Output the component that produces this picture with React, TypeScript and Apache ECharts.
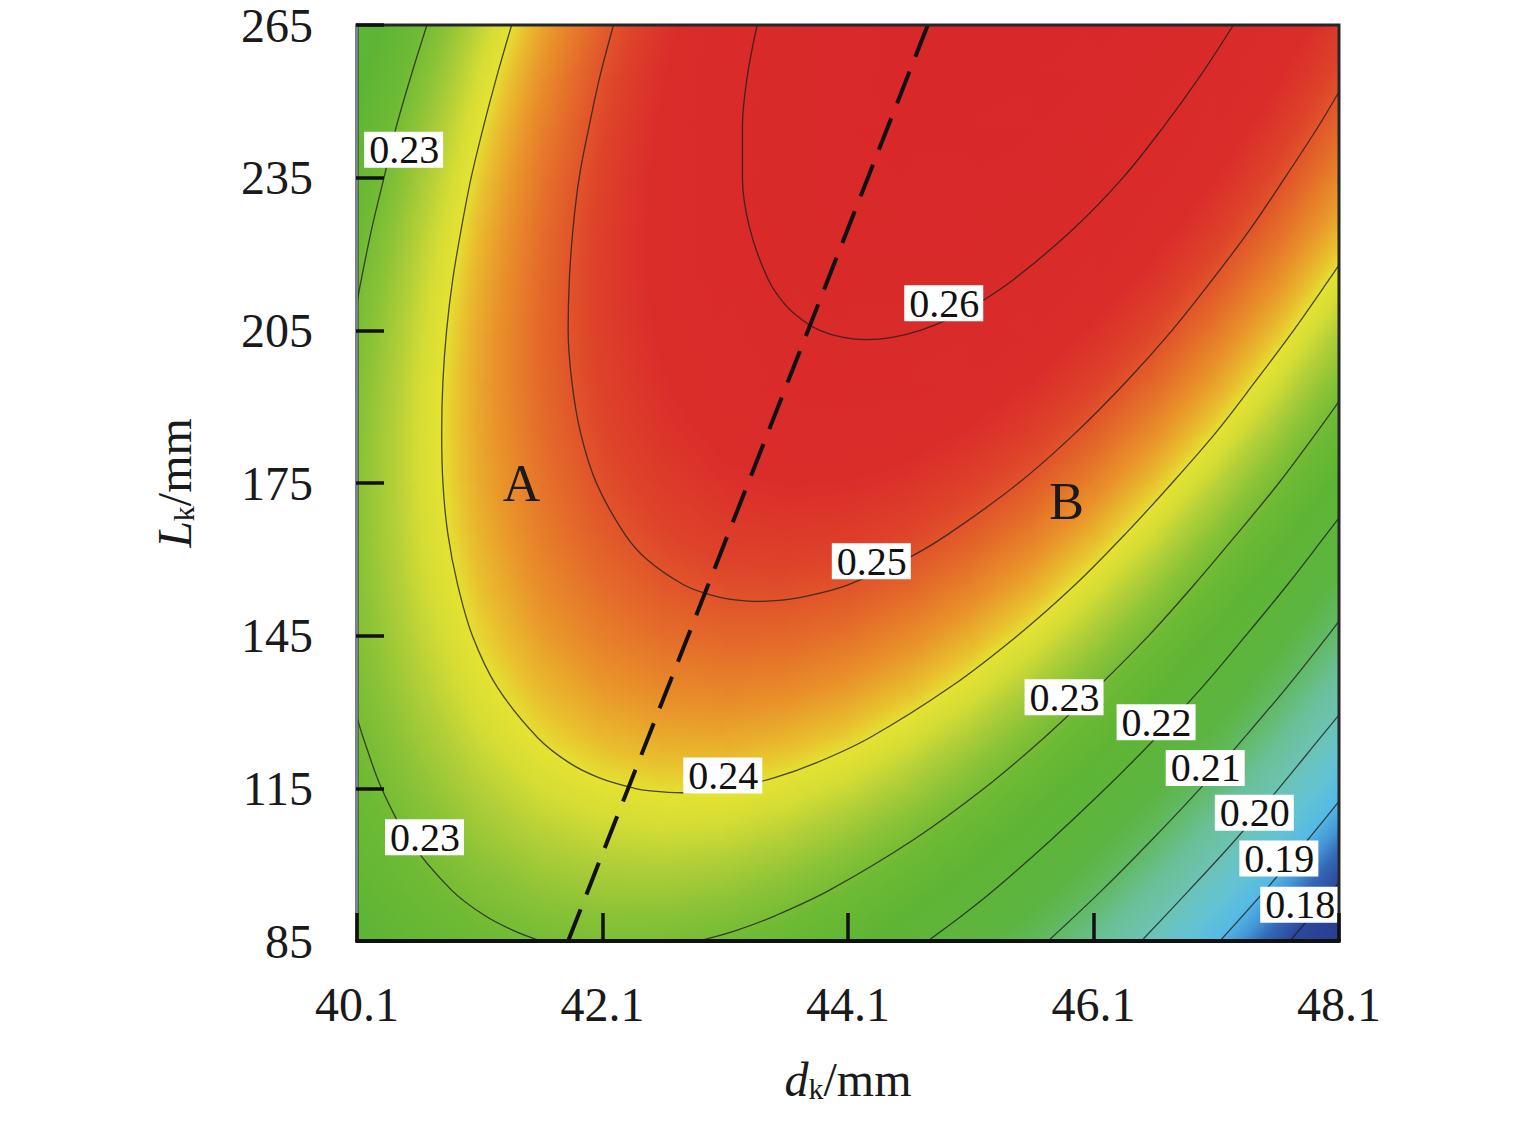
import React, { useEffect, useRef } from 'react';
import * as echarts from 'echarts';

const FONT = "'Liberation Serif', 'Times New Roman', Times, serif";

// ---- grid of the response surface: d_k (mm) columns, L_k (mm) rows ----
const dNodes = [40.1, 40.6, 41.1, 41.6, 42.1, 42.6, 43.1, 43.6, 44.1, 44.6, 45.1, 45.6, 46.1, 46.6, 47.1, 47.6, 48.1];
const LNodes = [85, 95, 105, 115, 125, 135, 145, 155, 165, 175, 185, 195, 205, 215, 225, 235, 245, 255, 265];

const fAt085 = [0.2229, 0.2261, 0.2285, 0.2300, 0.2307, 0.2305, 0.2295, 0.2276, 0.2248, 0.2212, 0.2168, 0.2115, 0.2054, 0.1984, 0.1905, 0.1818, 0.1723];
const fAt095 = [0.2250, 0.2285, 0.2311, 0.2329, 0.2339, 0.2340, 0.2333, 0.2317, 0.2292, 0.2259, 0.2218, 0.2168, 0.2109, 0.2042, 0.1966, 0.1882, 0.1790];
const fAt105 = [0.2267, 0.2305, 0.2335, 0.2356, 0.2368, 0.2372, 0.2368, 0.2355, 0.2333, 0.2303, 0.2264, 0.2217, 0.2162, 0.2098, 0.2025, 0.1944, 0.1854];
const fAt115 = [0.2283, 0.2324, 0.2356, 0.2380, 0.2395, 0.2402, 0.2401, 0.2390, 0.2372, 0.2345, 0.2309, 0.2265, 0.2212, 0.2151, 0.2081, 0.2002, 0.1916];
const fAt125 = [0.2296, 0.2339, 0.2375, 0.2402, 0.2420, 0.2429, 0.2431, 0.2423, 0.2408, 0.2383, 0.2350, 0.2309, 0.2259, 0.2201, 0.2134, 0.2059, 0.1975];
const fAt135 = [0.2306, 0.2353, 0.2391, 0.2420, 0.2442, 0.2454, 0.2458, 0.2454, 0.2441, 0.2420, 0.2390, 0.2351, 0.2304, 0.2249, 0.2185, 0.2112, 0.2031];
const fAt145 = [0.2314, 0.2363, 0.2404, 0.2437, 0.2461, 0.2476, 0.2483, 0.2482, 0.2472, 0.2453, 0.2426, 0.2391, 0.2347, 0.2294, 0.2233, 0.2163, 0.2085];
const fAt155 = [0.2319, 0.2371, 0.2415, 0.2451, 0.2477, 0.2496, 0.2506, 0.2507, 0.2500, 0.2484, 0.2460, 0.2428, 0.2386, 0.2337, 0.2278, 0.2212, 0.2136];
const fAt165 = [0.2321, 0.2377, 0.2423, 0.2462, 0.2492, 0.2513, 0.2526, 0.2530, 0.2526, 0.2513, 0.2492, 0.2462, 0.2424, 0.2377, 0.2321, 0.2258, 0.2185];
const fAt175 = [0.2321, 0.2379, 0.2429, 0.2470, 0.2503, 0.2527, 0.2543, 0.2550, 0.2549, 0.2539, 0.2520, 0.2494, 0.2458, 0.2414, 0.2362, 0.2301, 0.2231];
const fAt185 = [0.2318, 0.2380, 0.2432, 0.2476, 0.2512, 0.2539, 0.2558, 0.2568, 0.2569, 0.2562, 0.2547, 0.2523, 0.2490, 0.2449, 0.2400, 0.2342, 0.2275];
const fAt195 = [0.2313, 0.2377, 0.2433, 0.2480, 0.2518, 0.2548, 0.2570, 0.2583, 0.2587, 0.2583, 0.2570, 0.2549, 0.2520, 0.2482, 0.2435, 0.2380, 0.2316];
const fAt205 = [0.2305, 0.2372, 0.2431, 0.2481, 0.2522, 0.2555, 0.2579, 0.2595, 0.2602, 0.2601, 0.2591, 0.2573, 0.2546, 0.2511, 0.2467, 0.2415, 0.2354];
const fAt215 = [0.2295, 0.2365, 0.2426, 0.2479, 0.2523, 0.2559, 0.2586, 0.2605, 0.2615, 0.2617, 0.2610, 0.2595, 0.2571, 0.2538, 0.2497, 0.2448, 0.2390];
const fAt225 = [0.2282, 0.2355, 0.2419, 0.2475, 0.2522, 0.2560, 0.2590, 0.2612, 0.2625, 0.2630, 0.2626, 0.2613, 0.2592, 0.2563, 0.2525, 0.2479, 0.2424];
const fAt235 = [0.2266, 0.2342, 0.2409, 0.2468, 0.2518, 0.2559, 0.2592, 0.2617, 0.2633, 0.2640, 0.2639, 0.2630, 0.2612, 0.2585, 0.2550, 0.2506, 0.2454];
const fAt245 = [0.2248, 0.2327, 0.2397, 0.2458, 0.2511, 0.2555, 0.2591, 0.2619, 0.2638, 0.2648, 0.2650, 0.2643, 0.2628, 0.2604, 0.2572, 0.2531, 0.2482];
const fAt255 = [0.2227, 0.2309, 0.2382, 0.2446, 0.2502, 0.2549, 0.2588, 0.2618, 0.2640, 0.2653, 0.2658, 0.2654, 0.2642, 0.2621, 0.2592, 0.2554, 0.2508];
const fAt265 = [0.2204, 0.2288, 0.2364, 0.2431, 0.2490, 0.2540, 0.2582, 0.2615, 0.2640, 0.2656, 0.2664, 0.2663, 0.2653, 0.2635, 0.2609, 0.2574, 0.2531];

const fRows = [fAt085, fAt095, fAt105, fAt115, fAt125, fAt135, fAt145, fAt155, fAt165, fAt175, fAt185, fAt195, fAt205, fAt215, fAt225, fAt235, fAt245, fAt255, fAt265];

// ---- axis ticks ----
const xTicks = [40.1, 42.1, 44.1, 46.1, 48.1];
const yTicks = [85, 115, 145, 175, 205, 235, 265];

// ---- contour lines [d_k, L_k] ----
const contour018 = [[47.70, 85], [48.05, 95], [48.1, 96.58]];
const contour019 = [[47.13, 85], [47.50, 95], [47.85, 105], [48.1, 112.43]];
const contour020 = [[46.49, 85], [46.88, 95], [47.26, 105], [47.61, 115], [47.95, 125], [48.1, 129.42]];
const contour021 = [[45.73, 85], [46.17, 95], [46.58, 105], [46.97, 115], [47.33, 125], [47.68, 135], [48.01, 145], [48.1, 147.85]];
const contour022 = [[44.75, 85], [45.03, 90], [45.29, 95], [45.76, 105], [46.20, 115], [46.61, 125], [46.99, 135], [47.34, 145], [47.68, 155], [48.00, 165], [48.1, 168.15]];
const contour023Right = [[42.88, 85], [43.18, 87], [43.51, 90], [43.95, 95], [44.64, 105], [45.21, 115], [45.70, 125], [46.14, 135], [46.55, 145], [46.92, 155], [47.27, 165], [47.61, 175], [47.92, 185], [48.1, 191.04]];
const contour023Low = [[40.1, 128.93], [40.15, 125], [40.30, 115], [40.52, 105], [40.87, 95], [41.14, 90], [41.38, 87], [41.60, 85]];
const contour023Top = [[40.1, 210.39], [40.135, 215], [40.22, 225], [40.32, 235], [40.42, 245], [40.54, 255], [40.67, 265]];
const contour024 = [[41.36, 265], [41.24, 255], [41.13, 245], [41.03, 235], [40.95, 225], [40.88, 215], [40.83, 205], [40.80, 195], [40.79, 185], [40.80, 175], [40.84, 165], [40.92, 155], [41.04, 145], [41.24, 135], [41.57, 125], [41.83, 120], [42.08, 117], [42.36, 115], [42.49, 114.5], [42.74, 114.13], [43.00, 114.5], [43.14, 115], [43.49, 117], [43.84, 120], [44.28, 125], [44.94, 135], [45.48, 145], [45.95, 155], [46.36, 165], [46.74, 175], [47.10, 185], [47.42, 195], [47.73, 205], [48.02, 215], [48.1, 217.87]];
const contour025 = [[42.19, 265], [42.08, 255], [41.99, 245], [41.91, 235], [41.86, 225], [41.83, 215], [41.82, 205], [41.85, 195], [41.92, 185], [42.05, 175], [42.28, 165], [42.46, 160], [42.76, 155], [42.98, 153], [43.13, 152.2], [43.38, 151.75], [43.63, 152.2], [43.81, 153], [44.10, 155], [44.57, 160], [44.92, 165], [45.49, 175], [45.96, 185], [46.37, 195], [46.74, 205], [47.07, 215], [47.38, 225], [47.66, 235], [47.93, 245], [48.1, 251.88]];
const contour026 = [[43.36, 265], [43.28, 255], [43.24, 245], [43.24, 235], [43.30, 225], [43.45, 215], [43.59, 210], [43.73, 207], [43.87, 205], [44.06, 203.6], [44.25, 203.16], [44.46, 203.6], [44.69, 205], [44.90, 207], [45.14, 210], [45.45, 215], [45.94, 225], [46.34, 235], [46.67, 245], [46.97, 255], [47.24, 265]];

const contourLines = [
  { level: '0.18', points: contour018 },
  { level: '0.19', points: contour019 },
  { level: '0.20', points: contour020 },
  { level: '0.21', points: contour021 },
  { level: '0.22', points: contour022 },
  { level: '0.23', points: contour023Right },
  { level: '0.23', points: contour023Low },
  { level: '0.23', points: contour023Top },
  { level: '0.24', points: contour024 },
  { level: '0.25', points: contour025 },
  { level: '0.26', points: contour026 },
];

// ---- contour labels [text, d_k, L_k] ----
const contourLabelText = ['0.23', '0.26', '0.25', '0.24', '0.23', '0.23', '0.22', '0.21', '0.20', '0.19', '0.18'];
const contourLabelD = [40.48, 44.88, 44.29, 43.08, 40.65, 45.86, 46.61, 47.01, 47.41, 47.61, 47.78];
const contourLabelL = [240.5, 210.3, 159.6, 117.5, 105.4, 132.9, 128.0, 119.0, 110.2, 101.2, 92.1];

// ---- region markers ----
const regionText = ['A', 'B'];
const regionD = [41.44, 45.88];
const regionL = [174.9, 171.3];

// ---- dashed optimum line ----
const dashedLine = [[41.82, 85], [43.02, 158.6], [44.75, 265]];

// ---- colour scale (style) ----
const COLOR_STOPS: [number, number[]][] = [
  [0.170, [40, 56, 140]],
  [0.180, [44, 72, 156]],
  [0.184, [52, 104, 182]],
  [0.187, [68, 150, 214]],
  [0.1905, [86, 186, 228]],
  [0.195, [100, 195, 210]],
  [0.200, [108, 195, 180]],
  [0.205, [106, 192, 150]],
  [0.2095, [98, 186, 104]],
  [0.2145, [92, 181, 66]],
  [0.224, [94, 181, 52]],
  [0.229, [110, 186, 52]],
  [0.2325, [140, 195, 55]],
  [0.2355, [178, 207, 56]],
  [0.238, [214, 221, 52]],
  [0.2398, [228, 226, 50]],
  [0.2415, [233, 192, 46]],
  [0.2445, [233, 146, 42]],
  [0.248, [228, 104, 42]],
  [0.2515, [222, 67, 42]],
  [0.255, [218, 45, 42]],
  [0.270, [216, 38, 42]],
];

function rgbStr(c: number[]) {
  return 'rgb(' + Math.round(c[0]) + ',' + Math.round(c[1]) + ',' + Math.round(c[2]) + ')';
}

function colorAt(v: number) {
  const s = COLOR_STOPS;
  if (v <= s[0][0]) return rgbStr(s[0][1]);
  for (let i = 1; i < s.length; i++) {
    if (v <= s[i][0]) {
      const t = (v - s[i - 1][0]) / (s[i][0] - s[i - 1][0]);
      const a = s[i - 1][1];
      const b = s[i][1];
      return rgbStr([a[0] + (b[0] - a[0]) * t, a[1] + (b[1] - a[1]) * t, a[2] + (b[2] - a[2]) * t]);
    }
  }
  return rgbStr(s[s.length - 1][1]);
}

function buildOption() {
  const cellData: number[][] = [];
  for (let j = 0; j < LNodes.length - 1; j++) {
    for (let i = 0; i < dNodes.length - 1; i++) {
      cellData.push([
        dNodes[i], dNodes[i + 1], LNodes[j], LNodes[j + 1],
        fRows[j][i], fRows[j][i + 1], fRows[j + 1][i], fRows[j + 1][i + 1],
      ]);
    }
  }

  const textColor = '#1a1a1a';
  const nameRich = {
    i: { fontFamily: FONT, fontStyle: 'italic', fontSize: 48, lineHeight: 48, color: textColor },
    s: { fontFamily: FONT, fontSize: 30, lineHeight: 30, verticalAlign: 'bottom', color: textColor },
    n: { fontFamily: FONT, fontSize: 48, lineHeight: 48, color: textColor },
  };

  const series: any[] = [];

  series.push({
    type: 'custom',
    name: 'field',
    coordinateSystem: 'cartesian2d',
    silent: true,
    z: 1,
    dimensions: ['d0', 'd1', 'L0', 'L1', 'v00', 'v10', 'v01', 'v11'],
    encode: { x: [0, 1], y: [2, 3] },
    data: cellData,
    renderItem: (_params: any, api: any) => {
      const d0 = api.value(0), d1 = api.value(1), l0 = api.value(2), l1 = api.value(3);
      const v00 = api.value(4), v10 = api.value(5), v01 = api.value(6), v11 = api.value(7);
      const tl = api.coord([d0, l1]);
      const br = api.coord([d1, l0]);
      const x = tl[0], y = tl[1], w = br[0] - tl[0], h = br[1] - tl[1];
      const c = (v00 + v10 + v01 + v11) / 4;
      const gu = ((v10 - v00) + (v11 - v01)) / 2;
      const gw = ((v00 - v01) + (v10 - v11)) / 2;
      const span = Math.abs(gu) + Math.abs(gw);
      const pad = 0.7;
      const shape = { x: x - pad, y: y - pad, width: w + 2 * pad, height: h + 2 * pad };
      if (span < 1e-7) {
        return { type: 'rect', shape, style: { fill: colorAt(c) } };
      }
      const px = gu / w, py = gw / h;
      const n2 = px * px + py * py;
      const k = span / (2 * n2);
      const cx = x + w / 2, cy = y + h / 2;
      const vmin = c - span / 2, vmax = c + span / 2;
      const stops: any[] = [{ offset: 0, color: colorAt(vmin) }];
      for (const st of COLOR_STOPS) {
        if (st[0] > vmin && st[0] < vmax) stops.push({ offset: (st[0] - vmin) / span, color: rgbStr(st[1]) });
      }
      stops.push({ offset: 1, color: colorAt(vmax) });
      return {
        type: 'rect',
        shape,
        style: { fill: new echarts.graphic.LinearGradient(cx - k * px, cy - k * py, cx + k * px, cy + k * py, stops, true) },
      };
    },
  });

  contourLines.forEach((c) => {
    series.push({
      type: 'line',
      name: 'contour ' + c.level,
      data: c.points,
      smooth: 0.35,
      symbol: 'none',
      silent: true,
      z: 2,
      lineStyle: { color: 'rgba(30,30,30,0.78)', width: 1.3 },
    });
  });

  series.push({
    type: 'line',
    name: 'optimum',
    data: dashedLine,
    symbol: 'none',
    silent: true,
    z: 3,
    lineStyle: { color: '#111', width: 4, type: [34, 16], cap: 'butt' },
  });

  series.push({
    type: 'scatter',
    name: 'contour labels',
    silent: true,
    z: 4,
    symbolSize: 1,
    itemStyle: { color: 'rgba(0,0,0,0)', opacity: 1 },
    data: contourLabelText.map((t, i) => ({ name: t, value: [contourLabelD[i], contourLabelL[i]] })),
    label: {
      show: true,
      position: 'inside',
      formatter: '{b}',
      fontFamily: FONT,
      fontSize: 40,
      lineHeight: 36,
      color: '#111',
      opacity: 1,
      backgroundColor: '#ffffff',
      padding: [0, 4, 0, 5],
    },
  });

  series.push({
    type: 'scatter',
    name: 'regions',
    silent: true,
    z: 4,
    symbolSize: 1,
    itemStyle: { color: 'rgba(0,0,0,0)', opacity: 1 },
    data: regionText.map((t, i) => ({ name: t, value: [regionD[i], regionL[i]] })),
    label: {
      show: true,
      position: 'inside',
      formatter: '{b}',
      fontFamily: FONT,
      fontSize: 52,
      opacity: 1,
      color: '#1a1a1a',
    },
  });

  return {
    animation: false,
    backgroundColor: '#ffffff',
    grid: {
      left: 357,
      right: 196,
      top: 25,
      bottom: 182,
      show: true,
      z: 5,
      backgroundColor: 'transparent',
      borderColor: '#262626',
      borderWidth: 3,
    },
    xAxis: {
      type: 'value',
      min: 40.1,
      max: 48.1,
      z: 10,
      axisLine: { show: true, onZero: false, lineStyle: { color: '#111', width: 4 } },
      axisTick: { show: true, inside: true, length: 28, lineStyle: { color: '#111', width: 3.5 }, customValues: xTicks },
      axisLabel: {
        show: true,
        margin: 39,
        fontFamily: FONT,
        fontSize: 48,
        color: textColor,
        customValues: xTicks,
        formatter: (v: number) => v.toFixed(1),
      },
      splitLine: { show: false },
      name: '{i|d}{s|k}{n|/mm}',
      nameLocation: 'middle',
      nameGap: 114,
      nameTextStyle: { fontFamily: FONT, fontSize: 48, color: textColor, rich: nameRich },
    },
    yAxis: {
      type: 'value',
      min: 85,
      max: 265,
      z: 10,
      offset: 1,
      axisLine: { show: true, onZero: false, lineStyle: { color: '#76828e', width: 3 } },
      axisTick: { show: true, inside: true, length: 28, lineStyle: { color: '#111', width: 3.5 }, customValues: yTicks },
      axisLabel: {
        show: true,
        margin: 43,
        fontFamily: FONT,
        fontSize: 48,
        color: textColor,
        customValues: yTicks,
      },
      splitLine: { show: false },
      name: '{i|L}{s|k}{n|/mm}',
      nameLocation: 'middle',
      nameGap: 158,
      nameTextStyle: { fontFamily: FONT, fontSize: 48, color: textColor, rich: nameRich },
    },
    series,
  };
}

export default function App() {
  const ref = useRef<HTMLDivElement>(null);
  useEffect(() => {
    if (!ref.current) return;
    const chart = echarts.init(ref.current, null, { renderer: 'svg' });
    chart.setOption(buildOption() as any);
    return () => {
      chart.dispose();
    };
  }, []);
  return (
    <div
      ref={ref}
      style={{ position: 'fixed', left: 0, top: 0, width: '1535px', height: '1123px', background: '#ffffff' }}
    />
  );
}
